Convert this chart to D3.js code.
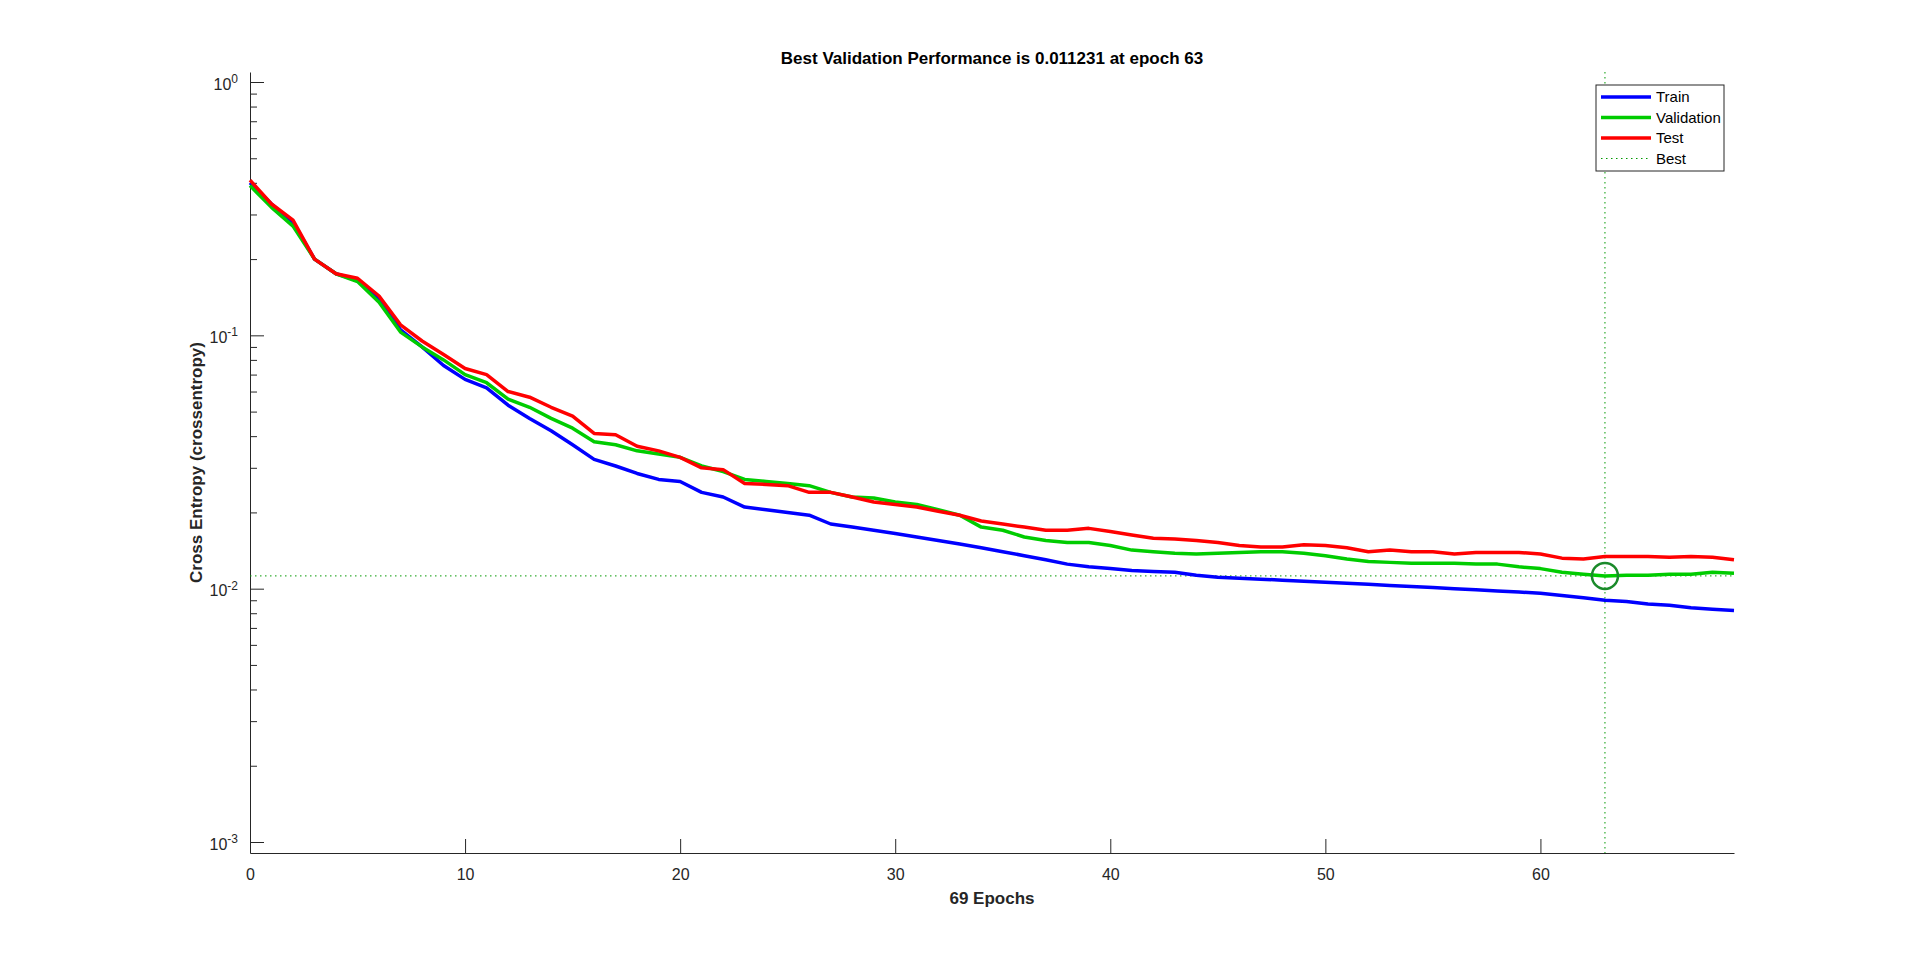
<!DOCTYPE html>
<html>
<head>
<meta charset="utf-8">
<style>
  body { margin: 0; background: white; font-family: "Liberation Sans", Arial, sans-serif; }
  .axis path, .axis line { stroke: #262626; }
  .axis text { fill: #262626; font-size: 16px; font-family: "Liberation Sans", Arial, sans-serif; }
</style>
</head>
<body>
<div id="chart"></div>
<script src="https://d3js.org/d3.v7.min.js"></script>
<script>
var epochs = d3.range(0, 70);
var train = [0.40,0.33,0.28,0.20,0.175,0.165,0.14,0.105,0.09,0.076,0.067,0.062,0.053,0.047,0.042,0.037,0.0324,0.0305,0.0285,0.027,
  0.0265,0.024,0.023,0.021,0.0205,0.020,0.0195,0.018,0.0175,0.017,0.0165,0.016,0.0155,0.015,0.0145,0.014,0.0135,0.013,0.0125,0.0122,
  0.012,0.0118,0.0117,0.0116,0.0113,0.0111,0.011,0.0109,0.0108,0.0107,0.0106,0.0105,0.0104,0.0103,0.0102,0.0101,0.0100,0.0099,0.0098,0.0097,
  0.0096,0.0094,0.0092,0.0090,0.0089,0.0087,0.0086,0.0084,0.0083,0.0082];
var validation = [0.39,0.32,0.27,0.20,0.175,0.163,0.135,0.103,0.09,0.08,0.07,0.065,0.056,0.052,0.047,0.043,0.038,0.037,0.035,0.034,
  0.033,0.0305,0.029,0.027,0.0265,0.026,0.0255,0.024,0.023,0.0228,0.022,0.0215,0.0205,0.0195,0.0175,0.017,0.016,0.0155,0.0152,0.0152,
  0.0148,0.0142,0.014,0.0138,0.0137,0.0138,0.0139,0.014,0.014,0.0138,0.0135,0.0131,0.0128,0.0127,0.0126,0.0126,0.0126,0.0125,0.0125,0.0122,
  0.012,0.0116,0.0114,0.011231,0.0113,0.0113,0.0114,0.0114,0.0116,0.0115];
var test = [0.41,0.33,0.285,0.20,0.175,0.168,0.143,0.11,0.095,0.084,0.074,0.07,0.06,0.057,0.052,0.048,0.041,0.0405,0.0365,0.035,
  0.033,0.030,0.0295,0.026,0.0258,0.0255,0.024,0.024,0.023,0.022,0.0215,0.021,0.0202,0.0195,0.0185,0.018,0.0175,0.017,0.017,0.0173,
  0.0168,0.0163,0.0158,0.0157,0.0155,0.0152,0.0148,0.0146,0.0146,0.0149,0.0148,0.0145,0.014,0.0142,0.014,0.014,0.0137,0.0139,0.0139,0.0139,
  0.0137,0.0132,0.0131,0.0134,0.0134,0.0134,0.0133,0.0134,0.0133,0.0130];
var bestEpoch = 63, bestValue = 0.011231;
var xTicks = [0, 10, 20, 30, 40, 50, 60];
var yTicks = [1e-3, 1e-2, 1e-1, 1e0];

var W = 1920, H = 959;
var plotLeft = 250, plotRight = 1734, plotTop = 72, plotBottom = 853;

var svg = d3.select("#chart").append("svg").attr("width", W).attr("height", H);

var x = d3.scaleLinear().domain([0, 69]).range([plotLeft, plotRight]);
var y = d3.scaleLog().domain([Math.pow(10, -3.0434), Math.pow(10, 0.0395)]).range([plotBottom, plotTop]);

// minor log ticks
var minor = [];
[-3, -2, -1].forEach(function (e) { for (var k = 2; k <= 9; k++) minor.push(k * Math.pow(10, e)); });

svg.append("g").attr("class", "axis").attr("transform", "translate(" + plotLeft + ",0)")
  .call(d3.axisLeft(y).tickValues(minor).tickSize(-7).tickFormat(""))
  .call(function (g) { g.select(".domain").remove(); });

var yAxis = svg.append("g").attr("class", "axis").attr("transform", "translate(" + plotLeft + ",0)")
  .call(d3.axisLeft(y).tickValues(yTicks).tickSizeInner(-14).tickSizeOuter(0).tickPadding(12).tickFormat(""));
yAxis.selectAll(".tick text").each(function (d) {
  var t = d3.select(this).attr("dy", "0.45em");
  t.append("tspan").text("10");
  t.append("tspan").attr("dy", "-0.55em").attr("font-size", "12px").text(Math.round(Math.log10(d)));
});

svg.append("g").attr("class", "axis").attr("transform", "translate(0," + plotBottom + ")")
  .call(d3.axisBottom(x).tickValues(xTicks).tickSizeInner(-14).tickSizeOuter(0).tickPadding(16));

// best markers
svg.append("line").attr("x1", plotLeft).attr("x2", plotRight).attr("y1", y(bestValue)).attr("y2", y(bestValue))
  .attr("stroke", "#009900").attr("stroke-dasharray", "1.5,3.5");
svg.append("line").attr("x1", x(bestEpoch)).attr("x2", x(bestEpoch)).attr("y1", plotTop).attr("y2", plotBottom)
  .attr("stroke", "#009900").attr("stroke-dasharray", "1.5,3.5");

var line = d3.line().x(function (d, i) { return x(epochs[i]); }).y(function (d) { return y(d); });
var series = [
  { name: "Train", values: train, color: "#0000ff" },
  { name: "Validation", values: validation, color: "#00cc00" },
  { name: "Test", values: test, color: "#ff0000" }
];
series.forEach(function (s) {
  svg.append("path").datum(s.values).attr("d", line).attr("fill", "none")
    .attr("stroke", s.color).attr("stroke-width", 3.5).attr("stroke-linejoin", "round");
});

svg.append("circle").attr("cx", x(bestEpoch)).attr("cy", y(bestValue)).attr("r", 13)
  .attr("fill", "none").attr("stroke", "#1a8a2a").attr("stroke-width", 2.5);

// labels
svg.append("text").attr("x", (plotLeft + plotRight) / 2).attr("y", 64).attr("text-anchor", "middle")
  .attr("font-size", "17px").attr("font-weight", "bold").attr("fill", "#000")
  .text("Best Validation Performance is " + bestValue + " at epoch " + bestEpoch);
svg.append("text").attr("x", (plotLeft + plotRight) / 2).attr("y", 904).attr("text-anchor", "middle")
  .attr("font-size", "17px").attr("font-weight", "bold").attr("fill", "#262626").text("69 Epochs");
svg.append("text").attr("transform", "translate(202," + (plotTop + plotBottom) / 2 + ") rotate(-90)")
  .attr("text-anchor", "middle").attr("font-size", "17px").attr("font-weight", "bold").attr("fill", "#262626")
  .text("Cross Entropy  (crossentropy)");

// legend
var lg = svg.append("g").attr("transform", "translate(1596,85)");
lg.append("rect").attr("width", 128).attr("height", 86).attr("fill", "white").attr("stroke", "#262626");
var items = series.concat([{ name: "Best", color: "#009900", dotted: true }]);
items.forEach(function (s, i) {
  var yy = 12 + i * 20.5;
  lg.append("line").attr("x1", 5).attr("x2", 55).attr("y1", yy).attr("y2", yy)
    .attr("stroke", s.color).attr("stroke-width", s.dotted ? 1 : 3.5)
    .attr("stroke-dasharray", s.dotted ? "1.5,3.5" : null);
  lg.append("text").attr("x", 60).attr("y", yy + 5).attr("font-size", "15px").attr("fill", "#000").text(s.name);
});
</script>
</body>
</html>
